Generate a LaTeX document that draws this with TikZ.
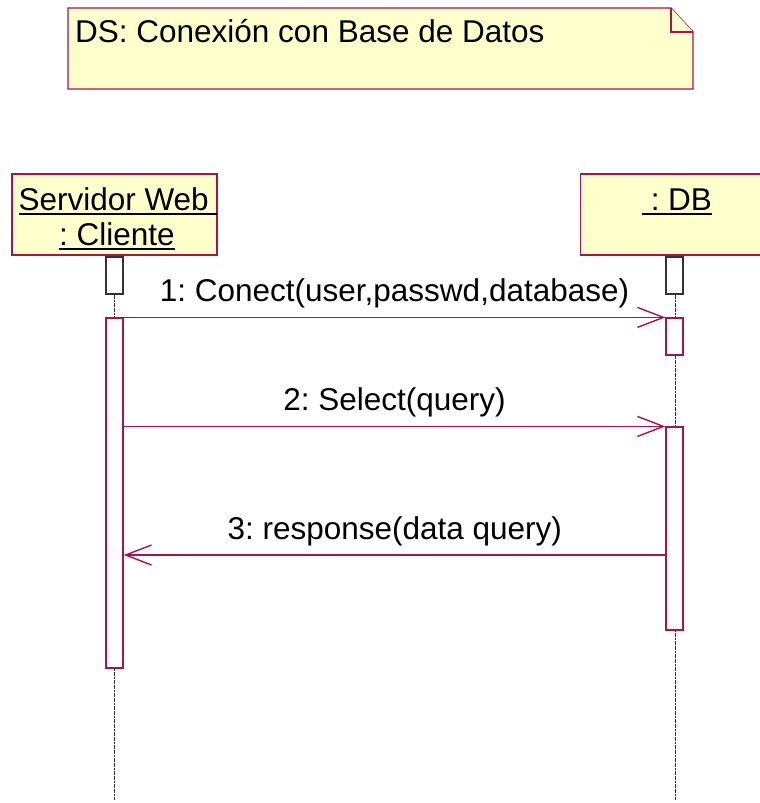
\documentclass[tikz,border=0pt]{standalone}
\usepackage{fontspec}
\setmainfont{Liberation Sans}
\usepackage{xcolor}
\usetikzlibrary{arrows.meta,positioning}
\frenchspacing

\definecolor{rosered}{RGB}{165,20,75}
\definecolor{noteyellow}{RGB}{255,255,204}
\definecolor{lifegray}{RGB}{50,50,50}

% underlined object name
\newcommand{\objname}[1]{\setbox0\hbox{#1}\rlap{\rule[-4.5pt]{\wd0}{1.8pt}}\box0}

\begin{document}
\begin{tikzpicture}[
    x=1pt, y=-1pt,
    every node/.style={font=\fontsize{31.5}{36}\selectfont, inner sep=0pt},
    headbox/.style={rectangle, draw=rosered, line width=1.4pt, fill=noteyellow},
    notebox/.style={draw=rosered, line width=1.4pt, fill=noteyellow},
    focusbox/.style={rectangle, draw=lifegray, line width=1.2pt, fill=white, minimum width=17pt, minimum height=37pt},
    actbox/.style={rectangle, draw=rosered, line width=1.2pt, fill=white, minimum width=17pt},
    lifeline/.style={draw=lifegray, line width=1pt, dash pattern=on 2pt off 0.6pt},
    msg/.style={draw=rosered, line width=1.1pt, -{Straight Barb[length=26pt,width=20pt,line width=1.4pt]}},
    msglabel/.style={midway, anchor=base, yshift=16pt}
]
    \useasboundingbox (0,0) rectangle (760,803);

    % note
    \draw [notebox] (68,8) -- (671,8) -- (693,32) -- (693,89) -- (68,89) -- cycle;
    \draw [notebox] (671,8) -- (671,32) -- (693,32);
    \node [anchor=base west] (title) at (75,42) {DS: Conexión con Base de Datos};

    % objects
    \node [headbox, minimum width=205pt, minimum height=81pt] (srvhead) at (114.5,214.5) {};
    \node [headbox, minimum width=190pt, minimum height=81pt] (dbhead) at (675.5,214.5) {};
    \node [anchor=base] (srvname) at (118,210) {\objname{Servidor Web\ }};
    \node [anchor=base] (srvclass) at (117,245) {\objname{: Cliente}};
    \node [anchor=base] (dbname) at (677,210) {\objname{\ : DB}};

    % lifelines
    \coordinate (srvend) at (114.5,800);
    \coordinate (dbend) at (675.5,800);
    \path [lifeline] (srvhead) -- (srvend);
    \path [lifeline] (dbhead) -- (dbend);

    % focus and activation boxes
    \node [focusbox] (srvtop) at (114.5,275.5) {};
    \node [focusbox] (dbtop) at (674.5,275.5) {};
    \node [actbox, minimum height=350pt] (srvact) at (114.5,493) {};
    \node [actbox, minimum height=37pt] (dbact1) at (674.5,336.5) {};
    \node [actbox, minimum height=203pt] (dbact2) at (674.5,528.5) {};

    % messages
    \coordinate (ret) at (666,555);
    \path [msg] (srvact.north east) -- node [msglabel] {1: Conect(user,passwd,database)} (dbact1.north west);
    \path [msg] (srvact.east |- dbact2.north) -- node [msglabel] {2: Select(query)} (dbact2.north west);
    \path [msg] (ret) -- node [msglabel] {3: response(data query)} (srvact.east |- ret);
\end{tikzpicture}
\end{document}
